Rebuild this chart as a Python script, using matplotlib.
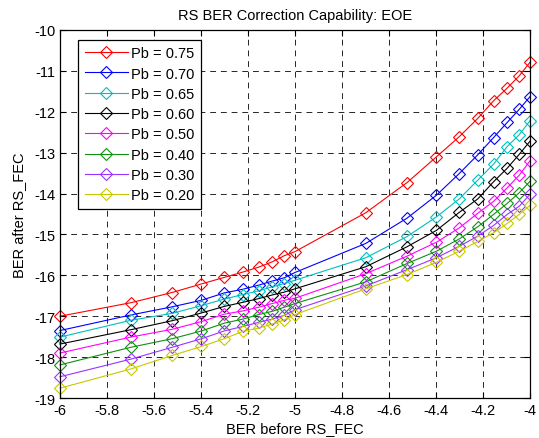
import numpy as np
import matplotlib
matplotlib.use('Agg')
import matplotlib.pyplot as plt

plt.rcParams['font.family'] = ['Liberation Sans', 'DejaVu Sans']
plt.rcParams['axes.unicode_minus'] = False

# BER before RS_FEC (linear), plotted as log10
ber_before = [1e-6, 2e-6, 3e-6, 4e-6, 5e-6, 6e-6, 7e-6, 8e-6, 9e-6, 1e-5,
              2e-5, 3e-5, 4e-5, 5e-5, 6e-5, 7e-5, 8e-5, 9e-5, 1e-4]

pb_075 = [-17.00, -16.67, -16.42, -16.21, -16.05, -15.92, -15.80, -15.67, -15.52, -15.42,
          -14.47, -13.73, -13.10, -12.61, -12.16, -11.73, -11.42, -11.12, -10.79]
pb_070 = [-17.35, -16.97, -16.77, -16.61, -16.43, -16.34, -16.24, -16.14, -16.06, -15.93,
          -15.22, -14.60, -14.04, -13.51, -13.05, -12.63, -12.26, -11.94, -11.63]
pb_065 = [-17.51, -17.10, -16.93, -16.74, -16.58, -16.47, -16.38, -16.28, -16.20, -16.12,
          -15.57, -15.05, -14.57, -14.13, -13.67, -13.28, -12.85, -12.56, -12.22]
pb_060 = [-17.68, -17.33, -17.11, -16.92, -16.76, -16.66, -16.57, -16.48, -16.41, -16.33,
          -15.79, -15.30, -14.90, -14.46, -14.13, -13.71, -13.38, -13.04, -12.72]
pb_050 = [-17.90, -17.51, -17.32, -17.13, -16.95, -16.87, -16.78, -16.69, -16.61, -16.56,
          -15.96, -15.53, -15.19, -14.84, -14.48, -14.19, -13.86, -13.55, -13.20]
pb_040 = [-18.19, -17.76, -17.55, -17.36, -17.17, -17.07, -16.96, -16.88, -16.78, -16.69,
          -16.16, -15.71, -15.41, -15.11, -14.81, -14.51, -14.24, -13.98, -13.70]
pb_030 = [-18.48, -18.05, -17.76, -17.55, -17.36, -17.25, -17.15, -17.07, -16.98, -16.84,
          -16.26, -15.86, -15.57, -15.29, -15.04, -14.78, -14.51, -14.31, -14.02]
pb_020 = [-18.76, -18.29, -17.96, -17.74, -17.55, -17.37, -17.29, -17.19, -17.09, -16.96,
          -16.33, -15.98, -15.68, -15.41, -15.17, -14.96, -14.73, -14.51, -14.29]

series = [pb_075, pb_070, pb_065, pb_060, pb_050, pb_040, pb_030, pb_020]
labels = ['Pb = 0.75', 'Pb = 0.70', 'Pb = 0.65', 'Pb = 0.60',
          'Pb = 0.50', 'Pb = 0.40', 'Pb = 0.30', 'Pb = 0.20']
colors = ['#ff0000', '#0000ff', '#00bfbf', '#000000',
          '#ff00ff', '#109010', '#9933ff', '#c8c800']

x = np.log10(ber_before)

fig = plt.figure(figsize=(5.39, 4.39), dpi=100)
ax = fig.add_axes([0.1113, 0.0911, 0.872, 0.8383])

for y, lab, c in zip(series, labels, colors):
    ax.plot(x, y, color=c, lw=0.8, marker='D', markersize=6.5,
            markerfacecolor='none', markeredgewidth=0.8, label=lab, clip_on=False)

ax.set_xlim(-6, -4)
ax.set_ylim(-19, -10)
ax.set_xticks(np.arange(-6, -3.99, 0.2))
ax.set_xticklabels(['-6', '-5.8', '-5.6', '-5.4', '-5.2', '-5', '-4.8', '-4.6', '-4.4', '-4.2', '-4'])
ax.set_yticks(range(-19, -9))
ax.tick_params(direction='in', top=True, right=True, length=4, width=0.8, labelsize=10.5)
ax.grid(True, color='0.15', linestyle=(0, (6, 5)), linewidth=0.7)
for s in ax.spines.values():
    s.set_linewidth(0.9)

ax.set_title('RS BER Correction Capability: EOE', fontsize=10.5, pad=8)
ax.set_xlabel('BER before RS_FEC', fontsize=10.5, labelpad=3)
ax.set_ylabel('BER after RS_FEC', fontsize=10.5, labelpad=6)

leg = ax.legend(loc='upper left', bbox_to_anchor=(0.0383, 0.9736), borderaxespad=0,
                fancybox=False, framealpha=1, edgecolor='black', fontsize=10.5,
                handlelength=3.0, handletextpad=0.2, labelspacing=0.43, borderpad=0.45)
leg.get_frame().set_linewidth(0.9)

fig.savefig('out.png', dpi=100)
